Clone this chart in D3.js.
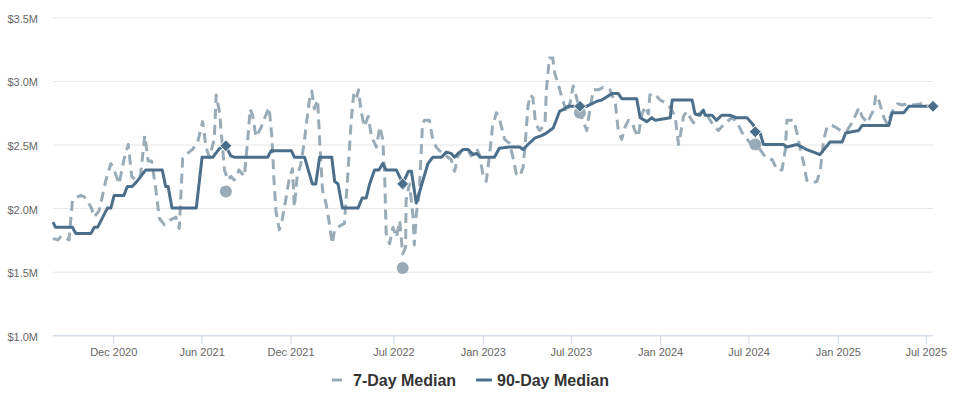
<!DOCTYPE html>
<html>
<head>
<meta charset="utf-8">
<script src="https://cdn.jsdelivr.net/npm/d3@7"></script>
<style>
  html, body { margin: 0; padding: 0; background: #fff; }
  svg { display: block; font-family: "Liberation Sans", Arial, sans-serif; }
</style>
</head>
<body>
<div id="chart"></div>
<script>
// 7-day median sale price ($M)
const median7 = [
  ["2020-07-30",1.76],["2020-08-09",1.75],["2020-08-16",1.78],["2020-08-22",1.77],["2020-09-01",1.75],
  ["2020-09-08",2.06],["2020-09-15",2.08],["2020-09-25",2.10],["2020-10-02",2.09],["2020-10-16",2.01],
  ["2020-10-23",1.93],["2020-11-02",1.98],["2020-11-16",2.22],["2020-11-26",2.35],["2020-12-03",2.30],
  ["2020-12-13",2.19],["2020-12-23",2.38],["2021-01-01",2.50],["2021-01-08",2.25],["2021-01-16",2.22],
  ["2021-01-26",2.25],["2021-02-04",2.57],["2021-02-11",2.37],["2021-02-18",2.37],["2021-02-26",2.17],
  ["2021-03-06",1.92],["2021-03-16",1.87],["2021-03-30",1.91],["2021-04-09",1.93],["2021-04-16",1.84],
  ["2021-04-23",2.39],["2021-05-06",2.44],["2021-05-13",2.46],["2021-05-24",2.52],["2021-06-03",2.68],
  ["2021-06-10",2.48],["2021-06-17",2.40],["2021-06-27",2.54],["2021-07-01",2.89],["2021-07-08",2.75],
  ["2021-07-18",2.30],["2021-07-25",2.22],["2021-07-31",2.25],["2021-08-07",2.22],["2021-08-17",2.30],
  ["2021-08-28",2.25],["2021-09-04",2.54],["2021-09-09",2.78],["2021-09-14",2.73],["2021-09-21",2.56],
  ["2021-10-01",2.63],["2021-10-10",2.72],["2021-10-18",2.79],["2021-10-24",2.55],["2021-10-28",2.22],
  ["2021-11-01",1.98],["2021-11-08",1.83],["2021-11-14",1.91],["2021-11-21",2.06],["2021-11-28",2.22],
  ["2021-12-05",2.31],["2021-12-09",2.01],["2021-12-15",2.26],["2021-12-22",2.34],["2021-12-29",2.51],
  ["2022-01-03",2.67],["2022-01-09",2.85],["2022-01-14",2.92],["2022-01-19",2.78],["2022-01-26",2.85],
  ["2022-01-30",2.54],["2022-02-05",2.14],["2022-02-12",2.04],["2022-02-19",1.88],["2022-02-25",1.72],
  ["2022-03-02",1.83],["2022-03-09",1.85],["2022-03-22",1.88],["2022-03-29",2.26],["2022-04-05",2.69],
  ["2022-04-10",2.89],["2022-04-15",2.85],["2022-04-20",2.93],["2022-04-25",2.77],["2022-05-02",2.64],
  ["2022-05-10",2.72],["2022-05-17",2.56],["2022-05-27",2.48],["2022-06-03",2.64],["2022-06-09",2.54],
  ["2022-06-13",2.25],["2022-06-16",1.80],["2022-06-23",1.72],["2022-06-30",1.85],["2022-07-07",1.77],
  ["2022-07-14",1.90],["2022-07-20",1.64],["2022-07-26",1.69],["2022-07-27",2.06],["2022-08-03",2.19],
  ["2022-08-10",1.95],["2022-08-13",1.71],["2022-08-17",1.95],["2022-08-23",2.11],["2022-08-30",2.67],
  ["2022-09-03",2.69],["2022-09-13",2.69],["2022-09-20",2.54],["2022-09-27",2.48],["2022-10-04",2.45],
  ["2022-10-18",2.41],["2022-10-28",2.38],["2022-11-04",2.29],["2022-11-11",2.41],["2022-11-21",2.46],
  ["2022-12-02",2.45],["2022-12-08",2.41],["2022-12-19",2.47],["2022-12-25",2.42],["2023-01-01",2.27],
  ["2023-01-08",2.21],["2023-01-15",2.42],["2023-01-21",2.64],["2023-01-29",2.75],["2023-02-05",2.69],
  ["2023-02-15",2.54],["2023-02-25",2.51],["2023-03-04",2.40],["2023-03-11",2.27],["2023-03-18",2.25],
  ["2023-03-25",2.32],["2023-03-30",2.54],["2023-04-04",2.80],["2023-04-09",2.89],["2023-04-14",2.87],
  ["2023-04-20",2.66],["2023-04-28",2.61],["2023-05-09",2.66],["2023-05-12",2.93],["2023-05-18",3.18],
  ["2023-05-25",3.18],["2023-05-29",3.06],["2023-06-05",2.98],["2023-06-12",2.88],["2023-06-23",2.75],
  ["2023-06-30",2.83],["2023-07-06",2.96],["2023-07-13",2.87],["2023-07-20",2.75],["2023-08-03",2.61],
  ["2023-08-10",2.79],["2023-08-17",2.93],["2023-08-27",2.93],["2023-09-06",2.95],["2023-09-20",2.93],
  ["2023-10-01",2.82],["2023-10-07",2.61],["2023-10-14",2.54],["2023-10-21",2.64],["2023-10-28",2.69],
  ["2023-11-04",2.68],["2023-11-10",2.61],["2023-11-17",2.56],["2023-11-24",2.73],["2023-12-01",2.80],
  ["2023-12-08",2.74],["2023-12-11",2.89],["2023-12-21",2.90],["2024-01-01",2.85],["2024-01-11",2.83],
  ["2024-01-18",2.81],["2024-01-25",2.77],["2024-02-01",2.72],["2024-02-08",2.50],["2024-02-15",2.64],
  ["2024-02-18",2.72],["2024-02-25",2.76],["2024-03-03",2.71],["2024-03-10",2.67],["2024-03-17",2.73],
  ["2024-03-28",2.76],["2024-04-03",2.77],["2024-04-10",2.71],["2024-04-20",2.65],["2024-04-30",2.61],
  ["2024-05-07",2.64],["2024-05-18",2.68],["2024-05-28",2.71],["2024-06-07",2.68],["2024-06-17",2.60],
  ["2024-06-24",2.56],["2024-07-05",2.51],["2024-07-15",2.50],["2024-07-25",2.46],["2024-08-05",2.40],
  ["2024-08-19",2.38],["2024-08-29",2.30],["2024-09-08",2.30],["2024-09-15",2.46],["2024-09-18",2.69],
  ["2024-10-02",2.69],["2024-10-09",2.59],["2024-10-16",2.46],["2024-10-23",2.35],["2024-10-29",2.22],
  ["2024-11-09",2.20],["2024-11-19",2.21],["2024-11-26",2.30],["2024-12-03",2.54],["2024-12-10",2.64],
  ["2024-12-20",2.65],["2024-12-30",2.63],["2025-01-10",2.60],["2025-01-20",2.61],["2025-01-30",2.67],
  ["2025-02-09",2.75],["2025-02-13",2.79],["2025-02-20",2.72],["2025-03-03",2.67],["2025-03-10",2.73],
  ["2025-03-16",2.77],["2025-03-20",2.88],["2025-03-23",2.89],["2025-03-30",2.80],["2025-04-06",2.71],
  ["2025-04-13",2.66],["2025-04-23",2.76],["2025-05-04",2.82],["2025-05-14",2.81],["2025-05-24",2.82],
  ["2025-06-07",2.81],["2025-06-21",2.82],["2025-07-04",2.81],["2025-07-16",2.80]
];

// 90-day median sale price ($M)
const median90 = [
  ["2020-07-30",1.89],["2020-08-04",1.85],["2020-09-08",1.85],["2020-09-15",1.80],["2020-10-16",1.80],
  ["2020-10-23",1.85],["2020-10-30",1.85],["2020-11-19",2.00],["2020-11-26",2.00],["2020-12-03",2.10],
  ["2020-12-23",2.10],["2020-12-30",2.17],["2021-01-09",2.17],["2021-01-19",2.21],["2021-02-06",2.30],
  ["2021-03-12",2.30],["2021-03-19",2.17],["2021-03-24",2.17],["2021-04-01",2.00],["2021-05-21",2.00],
  ["2021-06-02",2.40],["2021-06-24",2.40],["2021-07-08",2.47],["2021-07-21",2.49],["2021-07-31",2.41],
  ["2021-08-07",2.40],["2021-10-15",2.40],["2021-10-22",2.45],["2021-12-03",2.45],["2021-12-09",2.40],
  ["2021-12-30",2.40],["2022-01-15",2.19],["2022-01-22",2.19],["2022-01-30",2.40],["2022-02-24",2.40],
  ["2022-03-02",2.21],["2022-03-09",2.19],["2022-03-18",2.00],["2022-04-19",2.00],["2022-04-28",2.08],
  ["2022-05-06",2.08],["2022-05-13",2.19],["2022-05-23",2.30],["2022-06-01",2.30],["2022-06-09",2.35],
  ["2022-06-16",2.30],["2022-07-07",2.30],["2022-07-17",2.22],["2022-07-20",2.19],["2022-08-01",2.29],
  ["2022-08-07",2.29],["2022-08-17",2.04],["2022-08-27",2.17],["2022-09-10",2.35],["2022-09-20",2.40],
  ["2022-10-08",2.40],["2022-10-18",2.44],["2022-10-28",2.43],["2022-11-04",2.40],["2022-11-11",2.43],
  ["2022-11-21",2.46],["2022-12-02",2.46],["2022-12-12",2.42],["2022-12-19",2.43],["2022-12-27",2.40],
  ["2023-01-25",2.40],["2023-02-04",2.47],["2023-02-25",2.48],["2023-03-18",2.48],["2023-03-25",2.46],
  ["2023-04-04",2.50],["2023-04-18",2.55],["2023-05-02",2.57],["2023-05-12",2.59],["2023-05-26",2.63],
  ["2023-06-08",2.76],["2023-06-18",2.78],["2023-06-25",2.80],["2023-07-20",2.80],["2023-08-03",2.80],
  ["2023-08-13",2.82],["2023-08-24",2.84],["2023-09-03",2.85],["2023-09-24",2.90],["2023-10-07",2.90],
  ["2023-10-14",2.86],["2023-11-14",2.86],["2023-11-21",2.71],["2023-12-05",2.68],["2023-12-15",2.71],
  ["2023-12-22",2.69],["2024-01-22",2.71],["2024-01-26",2.85],["2024-03-07",2.85],["2024-03-13",2.74],
  ["2024-03-23",2.73],["2024-03-30",2.77],["2024-04-03",2.73],["2024-04-17",2.73],["2024-04-26",2.69],
  ["2024-05-07",2.73],["2024-05-24",2.73],["2024-06-07",2.71],["2024-06-28",2.71],["2024-07-12",2.65],
  ["2024-07-15",2.60],["2024-07-25",2.59],["2024-08-01",2.50],["2024-09-11",2.50],["2024-09-18",2.48],
  ["2024-10-09",2.50],["2024-10-19",2.48],["2024-10-29",2.46],["2024-11-12",2.44],["2024-11-25",2.42],
  ["2024-12-16",2.52],["2025-01-10",2.52],["2025-01-17",2.59],["2025-02-13",2.61],["2025-02-20",2.65],
  ["2025-04-16",2.65],["2025-04-23",2.75],["2025-05-17",2.75],["2025-05-27",2.80],["2025-07-16",2.80]
];

// same-date markers for each year (7-day circles only shown for the first four)
const markerDates = ["2021-07-21", "2022-07-20", "2023-07-20", "2024-07-15", "2025-07-16"];
const marker7Values = [2.13, 1.53, 2.75, 2.50];
const marker90Values = [2.49, 2.19, 2.80, 2.60, 2.80];

const yTicks = [1.0, 1.5, 2.0, 2.5, 3.0, 3.5];
const xTickDates = ["2020-12-01", "2021-06-01", "2021-12-01", "2022-07-01", "2023-01-01",
                    "2023-07-01", "2024-01-01", "2024-07-01", "2025-01-01", "2025-07-01"];

const seriesNames = ["7-Day Median", "90-Day Median"];
const colors = { light: "#9aabb8", dark: "#4b6f8a" };

const width = 954, height = 395;
const margin = { left: 53, right: 21, top: 17, bottom: 60 };
const parse = d3.utcParse("%Y-%m-%d");

const svg = d3.select("#chart").append("svg")
    .attr("width", width)
    .attr("height", height);

const x = d3.scaleUtc()
    .domain([parse("2020-07-30"), parse("2025-07-16")])
    .range([margin.left, width - margin.right]);

const y = d3.scaleLinear()
    .domain([1.0, 3.5])
    .range([335.3, 17.3]);

// Gridlines + y labels
const yAxis = svg.append("g")
    .attr("transform", `translate(${margin.left},0)`)
    .call(d3.axisLeft(y)
        .tickValues(yTicks)
        .tickSize(-(width - margin.left - margin.right))
        .tickPadding(15)
        .tickFormat(d => "$" + d.toFixed(1) + "M"));
yAxis.select(".domain").remove();
yAxis.selectAll("line").attr("stroke", "#e6e6e6");
yAxis.selectAll("text")
    .attr("fill", "#666")
    .attr("font-size", 11)
    .attr("dy", "0.45em");

// X axis
const xAxis = svg.append("g")
    .attr("transform", `translate(0,${y(1.0)})`)
    .call(d3.axisBottom(x)
        .tickValues(xTickDates.map(parse))
        .tickSize(9)
        .tickPadding(4)
        .tickFormat(d3.utcFormat("%b %Y")));
xAxis.select(".domain").attr("stroke", "#ccd6eb").attr("d", `M${margin.left},0.5H${width - margin.right}`);
xAxis.selectAll("line").attr("stroke", "#ccd6eb");
xAxis.selectAll("text").attr("fill", "#666").attr("font-size", 11);

const line = d3.line()
    .x(d => x(parse(d[0])))
    .y(d => y(d[1]));

// 7-day dashed line
svg.append("path")
    .datum(median7)
    .attr("fill", "none")
    .attr("stroke", colors.light)
    .attr("stroke-width", 3)
    .attr("stroke-dasharray", "10,6")
    .attr("stroke-linejoin", "round")
    .attr("d", line);

// 7-day markers
svg.append("g").selectAll("circle")
    .data(marker7Values.map((v, i) => [markerDates[i], v]))
    .enter().append("circle")
    .attr("cx", d => x(parse(d[0])))
    .attr("cy", d => y(d[1]))
    .attr("r", 6)
    .attr("fill", colors.light);

// 90-day solid line
svg.append("path")
    .datum(median90)
    .attr("fill", "none")
    .attr("stroke", colors.dark)
    .attr("stroke-width", 3)
    .attr("stroke-linejoin", "round")
    .attr("d", line);

// 90-day diamonds
svg.append("g").selectAll("path")
    .data(markerDates.map((d, i) => [d, marker90Values[i]]))
    .enter().append("path")
    .attr("transform", d => `translate(${x(parse(d[0]))},${y(d[1])})`)
    .attr("d", "M0,-6L6,0L0,6L-6,0Z")
    .attr("fill", colors.dark)
    .attr("stroke", "#fff")
    .attr("stroke-width", 1);

// Legend
const legend = svg.append("g").attr("transform", "translate(0,380)");
const legendItems = [
    { name: seriesNames[0], x: 332, color: colors.light, dash: "10,6" },
    { name: seriesNames[1], x: 476, color: colors.dark, dash: null }
];
legendItems.forEach(item => {
    legend.append("line")
        .attr("x1", item.x).attr("x2", item.x + 16)
        .attr("y1", 0).attr("y2", 0)
        .attr("stroke", item.color)
        .attr("stroke-width", 3)
        .attr("stroke-dasharray", item.dash);
    legend.append("text")
        .attr("x", item.x + 21)
        .attr("y", 6)
        .attr("fill", "#333")
        .attr("font-size", 16)
        .attr("font-weight", "bold")
        .text(item.name);
});
</script>
</body>
</html>
